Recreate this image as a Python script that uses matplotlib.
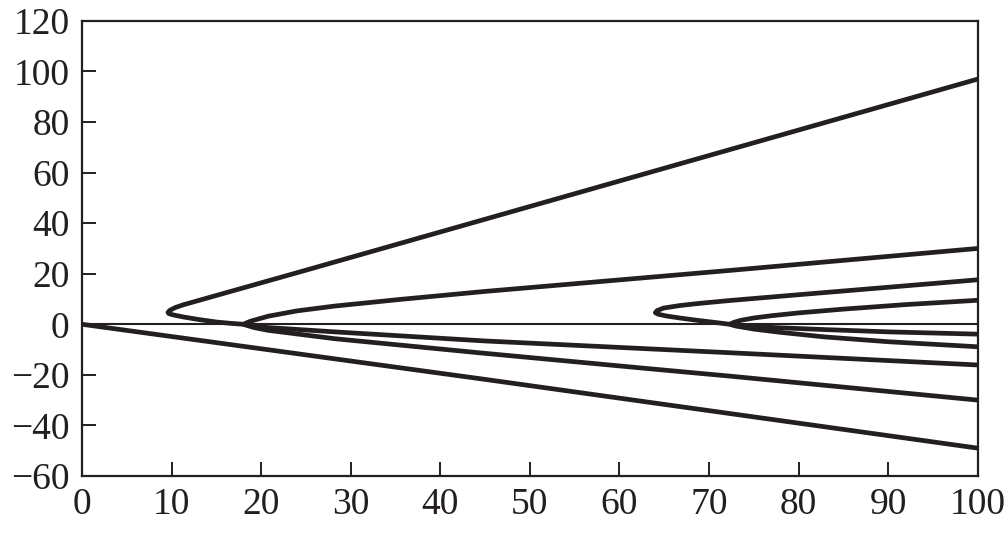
import matplotlib
matplotlib.use("Agg")
import matplotlib.pyplot as plt

# ---- data ----
x_ticks = [0, 10, 20, 30, 40, 50, 60, 70, 80, 90, 100]
y_ticks = [-60, -40, -20, 0, 20, 40, 60, 80, 100, 120]

# straight branch leaving the origin
origin_x = [0, 45, 100]
origin_y = [0, -21.8, -49.0]

# first fold (turning point near x = 9.6), lower part joins at x = 18
fold1_x = [18.0, 16.5, 15.0, 13.0, 11.3, 10.2, 9.7, 9.6, 9.8, 10.4, 11.3, 13.0, 15.0, 17.1, 24.9, 100]
fold1_y = [0.0, 0.4, 0.9, 1.9, 2.9, 3.7, 4.2, 4.7, 5.5, 6.6, 7.7, 9.4, 11.4, 13.5, 21.3, 97.0]

# branches leaving x = 18
b18_up_x = [18.0, 18.8, 20.8, 24.0, 28.2, 35.7, 45.0, 72.3, 100]
b18_up_y = [0.0, 1.2, 3.2, 5.3, 7.2, 9.9, 13.0, 21.3, 30.0]
b18_lo1_x = [18.0, 19.2, 20.8, 28.2, 45.0, 72.0, 100]
b18_lo1_y = [0.0, -0.7, -1.3, -3.0, -6.6, -11.2, -16.1]
b18_lo2_x = [18.0, 19.2, 20.8, 28.2, 44.4, 63.4, 72.3, 100]
b18_lo2_y = [0.0, -1.3, -2.4, -5.7, -11.3, -17.6, -20.5, -30.0]

# second fold (turning point near x = 64), lower part joins at x = 72.3
fold2_x = [72.3, 70.5, 68.6, 66.7, 65.2, 64.3, 64.0, 64.2, 64.9, 66.7, 69.0, 72.3, 79.0, 100]
fold2_y = [0.0, 0.8, 1.6, 2.5, 3.3, 4.0, 4.6, 5.4, 6.4, 7.4, 8.3, 9.4, 11.4, 17.6]

# branches leaving x = 72.3
b72_up_x = [72.3, 72.8, 73.6, 75.0, 77.0, 80.0, 85.0, 92.0, 100]
b72_up_y = [0.0, 0.8, 1.6, 2.5, 3.4, 4.5, 6.0, 7.8, 9.5]
b72_lo1_x = [72.3, 73.0, 75.0, 78.0, 82.9, 90.0, 100]
b72_lo1_y = [0.0, -0.4, -0.9, -1.4, -2.1, -3.0, -3.9]
b72_lo2_x = [72.3, 73.0, 75.0, 78.0, 82.9, 90.0, 100]
b72_lo2_y = [0.0, -0.7, -1.9, -3.2, -5.0, -6.9, -8.9]

curves = [
    (origin_x, origin_y),
    (fold1_x, fold1_y),
    (b18_up_x, b18_up_y),
    (b18_lo1_x, b18_lo1_y),
    (b18_lo2_x, b18_lo2_y),
    (fold2_x, fold2_y),
    (b72_up_x, b72_up_y),
    (b72_lo1_x, b72_lo1_y),
    (b72_lo2_x, b72_lo2_y),
]

# ---- drawing ----
ink = "#231f20"
plt.rcParams["font.family"] = ["Liberation Serif", "DejaVu Serif"]

fig = plt.figure(figsize=(10.06, 5.36), dpi=100)
ax = fig.add_axes([0.0815, 0.112, 0.8905, 0.849])

ax.axhline(0, color=ink, lw=1.5, zorder=1)
for xs, ys in curves:
    ax.plot(xs, ys, color=ink, lw=3.4, solid_joinstyle="round",
            solid_capstyle="butt", zorder=2)

ax.set_xlim(0, 100)
ax.set_ylim(-60, 120)
ax.set_xticks(x_ticks)
ax.set_yticks(y_ticks)
ax.set_xticklabels([str(v) for v in x_ticks])
ax.set_yticklabels([str(v).replace("-", "\u2212") for v in y_ticks])

ax.tick_params(direction="in", length=10, width=1.4, color=ink,
               labelsize=27, labelcolor=ink, top=False, right=False)
ax.tick_params(axis="y", pad=9)
ax.tick_params(axis="x", pad=8)
for s in ax.spines.values():
    s.set_color(ink)
    s.set_linewidth(1.6)

fig.savefig("out.png", dpi=100)
